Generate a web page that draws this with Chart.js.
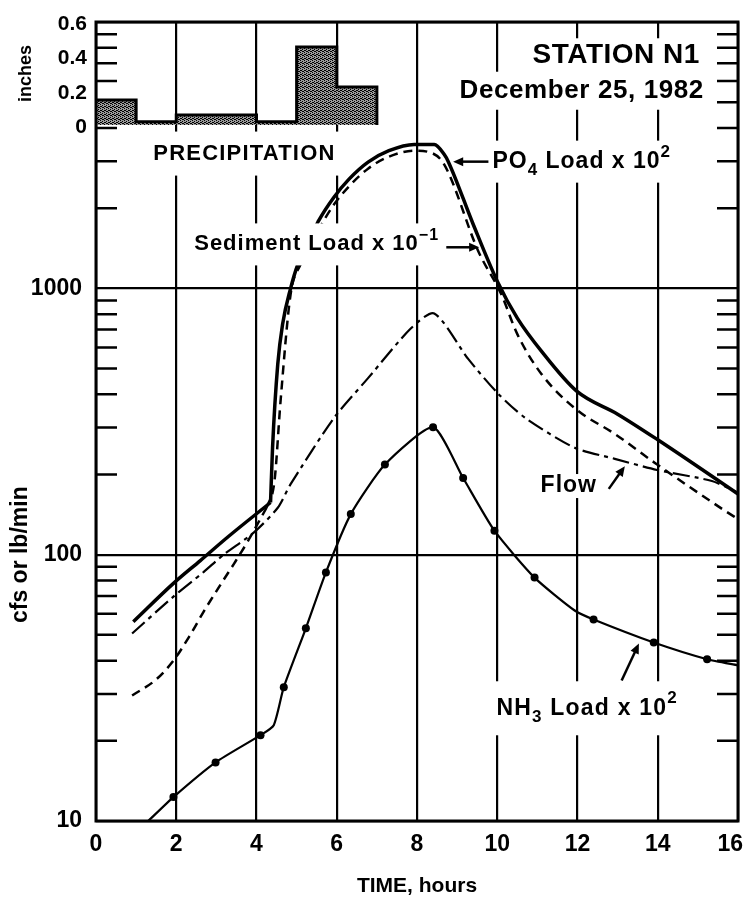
<!DOCTYPE html>
<html><head><meta charset="utf-8">
<script src="https://cdn.jsdelivr.net/npm/chart.js@4/dist/chart.umd.min.js"></script>
<style>html,body{margin:0;padding:0;background:#fff;}#wrap{width:746px;height:903px;position:relative;}</style>
</head><body><div id="wrap"><canvas id="c" width="746" height="903"></canvas></div>
<script>
// ---------------- data ----------------
const timeTicks = [0, 2, 4, 6, 8, 10, 12, 14, 16];
const decadeTicks = [10, 100, 1000, 10000];
const decadeLabels = ['10', '100', '1000', ''];
const precipTicks = [0, 0.2, 0.4, 0.6];
const precipTickLabels = ['0', '0.2', '0.4', '0.6'];

const precipStartHour = [0, 1, 2, 4, 5, 6, 7];
const precipInches   = [0.146, 0.02, 0.058, 0.02, 0.454, 0.221, 0];

// PO4 load x 10^2 (lb/min); sharp break at 4.35 h
const po4Hours = [0.93, 1.93, 2.6, 3.3, 4.35, 4.4, 4.53, 4.65, 4.85, 5.03, 5.55, 5.93, 6.3, 6.78, 7.3, 7.93, 8.43, 8.68, 8.78, 9.4, 10.0, 10.5, 11.1, 11.98, 13.0, 14.0, 16.0];
const po4Load  = [56, 78, 95, 117, 157, 252, 519, 733, 1000, 1230, 1795, 2199, 2565, 2978, 3286, 3470, 3470, 3180, 2990, 1740, 1064, 773, 581, 411, 337, 270, 169];
const po4BreakHour = 4.35;

// Sediment load x 10^-1 (lb/min); sharp break at 4.25 h
const sedHours = [0.9, 1.5, 1.93, 2.35, 2.68, 3.1, 3.43, 3.78, 4.25, 4.45, 4.6, 4.85, 5.1, 5.55, 5.93, 6.3, 6.78, 7.3, 7.93, 8.35, 8.68, 9.53, 10.1, 10.5, 11.1, 11.98, 12.93, 13.93, 15.68, 16.0];
const sedLoad  = [29.6, 34, 40, 50, 61, 77, 92, 112, 150, 190, 378, 950, 1230, 1663, 2063, 2410, 2814, 3122, 3288, 3230, 2913, 1376, 950, 673, 477, 350, 284, 221, 146, 136];
const sedBreakHour = 4.25;

// Flow (cfs)
const flowHours = [0.9, 1.93, 2.68, 3.18, 3.93, 4.53, 4.85, 5.93, 6.78, 7.85, 8.43, 9.28, 10.03, 10.7, 11.93, 12.93, 13.98, 15.35, 16.0];
const flowCfs   = [50.6, 69.6, 86, 100, 121, 150, 184, 326, 460, 708, 805, 542, 401, 326, 252, 229, 208, 189, 171];

// NH3 load x 10^2 (lb/min); sampled = drawn with a dot
const nh3Hours   = [1.3, 1.93, 2.98, 4.1, 4.43, 4.68, 5.23, 5.73, 6.35, 7.2, 8.4, 9.15, 9.93, 10.93, 11.93, 12.4, 13.9, 15.23, 16.0];
const nh3Load    = [10, 12.3, 16.6, 21, 22.9, 31.8, 52.9, 85.8, 142, 218, 301, 194, 123, 82, 61.7, 57.1, 46.8, 40.5, 38.4];
const nh3Sampled = [0, 1, 1, 1, 0, 1, 1, 1, 1, 1, 1, 1, 1, 1, 0, 1, 1, 1, 0];

const pts = (xs, ys) => xs.map((x, i) => ({x: x, y: ys[i]}));
const before = (xs, ys, h) => pts(xs, ys).filter(p => p.x <= h);
const after  = (xs, ys, h) => pts(xs, ys).filter(p => p.x >= h);

// ---------------- styles ----------------
const FONT = '"Liberation Sans", Arial, Helvetica, sans-serif';

function stipple() {
  const c = document.createElement('canvas'); c.width = 4; c.height = 4;
  const g = c.getContext('2d');
  g.fillStyle = '#9a9a9a'; g.fillRect(0, 0, 4, 4);
  g.fillStyle = '#000';
  g.fillRect(0, 0, 1, 1); g.fillRect(2, 1, 1, 1); g.fillRect(1, 2, 1, 1); g.fillRect(3, 3, 1, 1);
  g.fillRect(2, 3, 1, 1); g.fillRect(0, 2, 1, 1);
  return g.createPattern(c, 'repeat');
}

function rich(ctx, segs, x, y, align, size, box, spacing) {
  const fs = s => 'bold ' + (s.sub || s.sup ? Math.round(size * 0.72) : size) + 'px ' + FONT;
  ctx.letterSpacing = (spacing || 0) + 'px';
  let w = 0;
  segs.forEach(s => { ctx.font = fs(s); s.w = ctx.measureText(s.t).width; w += s.w; });
  let x0 = align === 'right' ? x - w : align === 'center' ? x - w / 2 : x;
  if (box) {
    ctx.fillStyle = '#fff';
    ctx.fillRect(x0 - box[0], y - box[1], w + 2 * box[0], 2 * box[1]);
  }
  ctx.fillStyle = '#000';
  ctx.textAlign = 'left'; ctx.textBaseline = 'middle';
  segs.forEach(s => {
    ctx.font = fs(s);
    const dy = s.sub ? size * 0.38 : s.sup ? -size * 0.42 : 0;
    ctx.fillText(s.t, x0, y + dy);
    x0 += s.w;
  });
  ctx.letterSpacing = '0px';
}

function arrow(ctx, x1, y1, x2, y2) {
  const a = Math.atan2(y2 - y1, x2 - x1), h = 11;
  ctx.strokeStyle = '#000'; ctx.fillStyle = '#000'; ctx.lineWidth = 2.5; ctx.setLineDash([]);
  ctx.beginPath(); ctx.moveTo(x1, y1); ctx.lineTo(x2 - Math.cos(a) * 6, y2 - Math.sin(a) * 6); ctx.stroke();
  ctx.beginPath();
  ctx.moveTo(x2, y2);
  ctx.lineTo(x2 - h * Math.cos(a - 0.42), y2 - h * Math.sin(a - 0.42));
  ctx.lineTo(x2 - h * Math.cos(a + 0.42), y2 - h * Math.sin(a + 0.42));
  ctx.closePath(); ctx.fill();
}

const decor = {
  id: 'decor',
  beforeDatasetsDraw(chart) {
    const ctx = chart.ctx, a = chart.chartArea, X = chart.scales.x, Y = chart.scales.y;
    const px = v => X.getPixelForValue(v), py = v => Y.getPixelForValue(v);
    ctx.save();
    // minor log ticks on both edges
    ctx.strokeStyle = '#000'; ctx.lineWidth = 2.5;
    [10, 100, 1000].forEach(d => {
      for (let m = 2; m <= 9; m++) {
        const y = py(d * m);
        ctx.beginPath();
        ctx.moveTo(a.left, y); ctx.lineTo(a.left + 21, y);
        ctx.moveTo(a.right - 21, y); ctx.lineTo(a.right, y);
        ctx.stroke();
      }
    });
    // labels with white backing (hide grid behind them)
    rich(ctx, [{t: 'STATION N1'}], px(15.05), py(7500), 'right', 28, [8, 17], 0.5);
    rich(ctx, [{t: 'December 25, 1982'}], px(15.15), py(5520), 'right', 26, [8, 19], 0.6);
    rich(ctx, [{t: 'PRECIPITATION'}], px(3.7), py(3206), 'center', 22, [8, 22], 1.2);
    rich(ctx, [{t: 'PO'}, {t: '4', sub: true}, {t: ' Load x 10'}, {t: '2', sup: true}], px(9.88), py(2990), 'left', 23, [4, 21], 1);
    rich(ctx, [{t: 'Flow'}], px(11.08), py(181), 'left', 23, [5, 12], 1);
    rich(ctx, [{t: 'NH'}, {t: '3', sub: true}, {t: ' Load x 10'}, {t: '2', sup: true}], px(9.98), py(26.5), 'left', 23, [6, 27], 1.2);
    ctx.restore();
  },
  afterDatasetsDraw(chart) {
    const ctx = chart.ctx, a = chart.chartArea, X = chart.scales.x, Y = chart.scales.y, P = chart.scales.yP;
    const px = v => X.getPixelForValue(v), py = v => Y.getPixelForValue(v);
    ctx.save();
    // this label's white backing also interrupts the rising curves, as in the original
    rich(ctx, [{t: 'Sediment Load x 10'}, {t: '\u22121', sup: true}], px(8.55), py(1462), 'right', 22, [6, 21], 1);
    arrow(ctx, px(9.78), py(2990), px(8.9), py(2990));
    arrow(ctx, px(8.73), py(1426), px(9.55), py(1426));
    arrow(ctx, px(12.78), py(176.6), px(13.18), py(215));
    arrow(ctx, px(13.1), py(33.7), px(13.53), py(46.4));
    // frame
    ctx.strokeStyle = '#000'; ctx.lineWidth = 3; ctx.setLineDash([]);
    ctx.strokeRect(a.left, a.top, a.right - a.left, a.bottom - a.top);
    // time tick labels (kept inside the canvas at the right edge)
    ctx.fillStyle = '#000'; ctx.textBaseline = 'middle'; ctx.textAlign = 'center';
    ctx.font = 'bold 23px ' + FONT;
    timeTicks.forEach(v => {
      const w = ctx.measureText(String(v)).width;
      const x = Math.min(px(v), chart.width - 3 - w / 2);
      ctx.fillText(String(v), x, a.bottom + 24);
    });
    // precipitation axis labels
    ctx.textAlign = 'right';
    ctx.font = 'bold 21px ' + FONT;
    precipTicks.forEach((v, i) => ctx.fillText(precipTickLabels[i], a.left - 9, P.getPixelForValue(v) + 2));
    // axis titles
    ctx.font = 'bold 18px ' + FONT;
    ctx.save(); ctx.translate(26, P.getPixelForValue(0.3)); ctx.rotate(-Math.PI / 2);
    ctx.textAlign = 'center'; ctx.fillText('inches', 0, 0); ctx.restore();
    ctx.font = 'bold 23px ' + FONT;
    ctx.save(); ctx.translate(21, py(100)); ctx.rotate(-Math.PI / 2);
    ctx.textAlign = 'center'; ctx.fillText('cfs or lb/min', 0, 0); ctx.restore();
    ctx.font = 'bold 21px ' + FONT;
    ctx.textAlign = 'center';
    ctx.fillText('TIME, hours', (a.left + a.right) / 2, 886);
    ctx.restore();
  }
};

// inset axis: 0 in. sits near the top; range chosen so the 0.6 in. line is the frame top
const insetTopInches = 0.6, insetShare = 0.129;
const insetMin = insetTopInches - insetTopInches / insetShare;

const solid = {borderColor: '#000', borderWidth: 3.5, cubicInterpolationMode: 'monotone', pointRadius: 0, fill: false};
const shortDash = {borderColor: '#000', borderWidth: 2.5, borderDash: [9, 6], cubicInterpolationMode: 'monotone', pointRadius: 0, fill: false};

new Chart(document.getElementById('c'), {
  type: 'line',
  data: {
    datasets: [
      {
        label: 'Precipitation', yAxisID: 'yP', data: pts(precipStartHour, precipInches),
        stepped: true, borderColor: '#000', borderWidth: 3, backgroundColor: stipple(),
        fill: 'origin', pointRadius: 0
      },
      Object.assign({label: 'PO4 Load x 10^2', yAxisID: 'y', data: before(po4Hours, po4Load, po4BreakHour)}, solid),
      Object.assign({label: 'PO4 Load x 10^2 (after break)', yAxisID: 'y', data: after(po4Hours, po4Load, po4BreakHour)}, solid),
      Object.assign({label: 'Sediment Load x 10^-1', yAxisID: 'y', data: before(sedHours, sedLoad, sedBreakHour)}, shortDash),
      Object.assign({label: 'Sediment Load x 10^-1 (after break)', yAxisID: 'y', data: after(sedHours, sedLoad, sedBreakHour)}, shortDash),
      {
        label: 'Flow', yAxisID: 'y', data: pts(flowHours, flowCfs),
        borderColor: '#000', borderWidth: 2.2, borderDash: [17, 5, 4, 5], tension: 0.25, pointRadius: 0, fill: false
      },
      {
        label: 'NH3 Load x 10^2', yAxisID: 'y', data: pts(nh3Hours, nh3Load),
        borderColor: '#000', borderWidth: 2.2, tension: 0.2, fill: false,
        pointRadius: c => nh3Sampled[c.dataIndex] ? 4 : 0,
        pointBackgroundColor: '#000', pointBorderColor: '#000', pointBorderWidth: 0
      }
    ]
  },
  options: {
    responsive: false, animation: false, devicePixelRatio: 1,
    layout: {padding: {top: 22, right: 8, left: 0, bottom: 0}},
    plugins: {legend: {display: false}, tooltip: {enabled: false}},
    scales: {
      x: {
        type: 'linear', min: 0, max: 16,
        afterBuildTicks: s => { s.ticks = timeTicks.map(v => ({value: v})); },
        afterFit: s => { s.height = 82; s.paddingLeft = 0; s.paddingRight = 0; },
        grid: {color: '#000', lineWidth: 2.2, drawTicks: false},
        border: {display: false},
        ticks: {display: false}
      },
      y: {
        type: 'logarithmic', min: 10, max: 10000, position: 'left',
        afterBuildTicks: s => { s.ticks = decadeTicks.map(v => ({value: v})); },
        afterFit: s => { s.width = 96; s.paddingTop = 0; s.paddingBottom = 0; },
        grid: {color: '#000', lineWidth: 2.2, drawTicks: false},
        border: {display: false},
        ticks: {color: '#000', padding: 14, font: {family: FONT, size: 23, weight: 'bold'},
          callback: (v) => decadeLabels[decadeTicks.indexOf(v)] ?? ''}
      },
      yP: {
        type: 'linear', display: false, min: insetMin, max: insetTopInches
      }
    }
  },
  plugins: [decor]
});
</script></body></html>
